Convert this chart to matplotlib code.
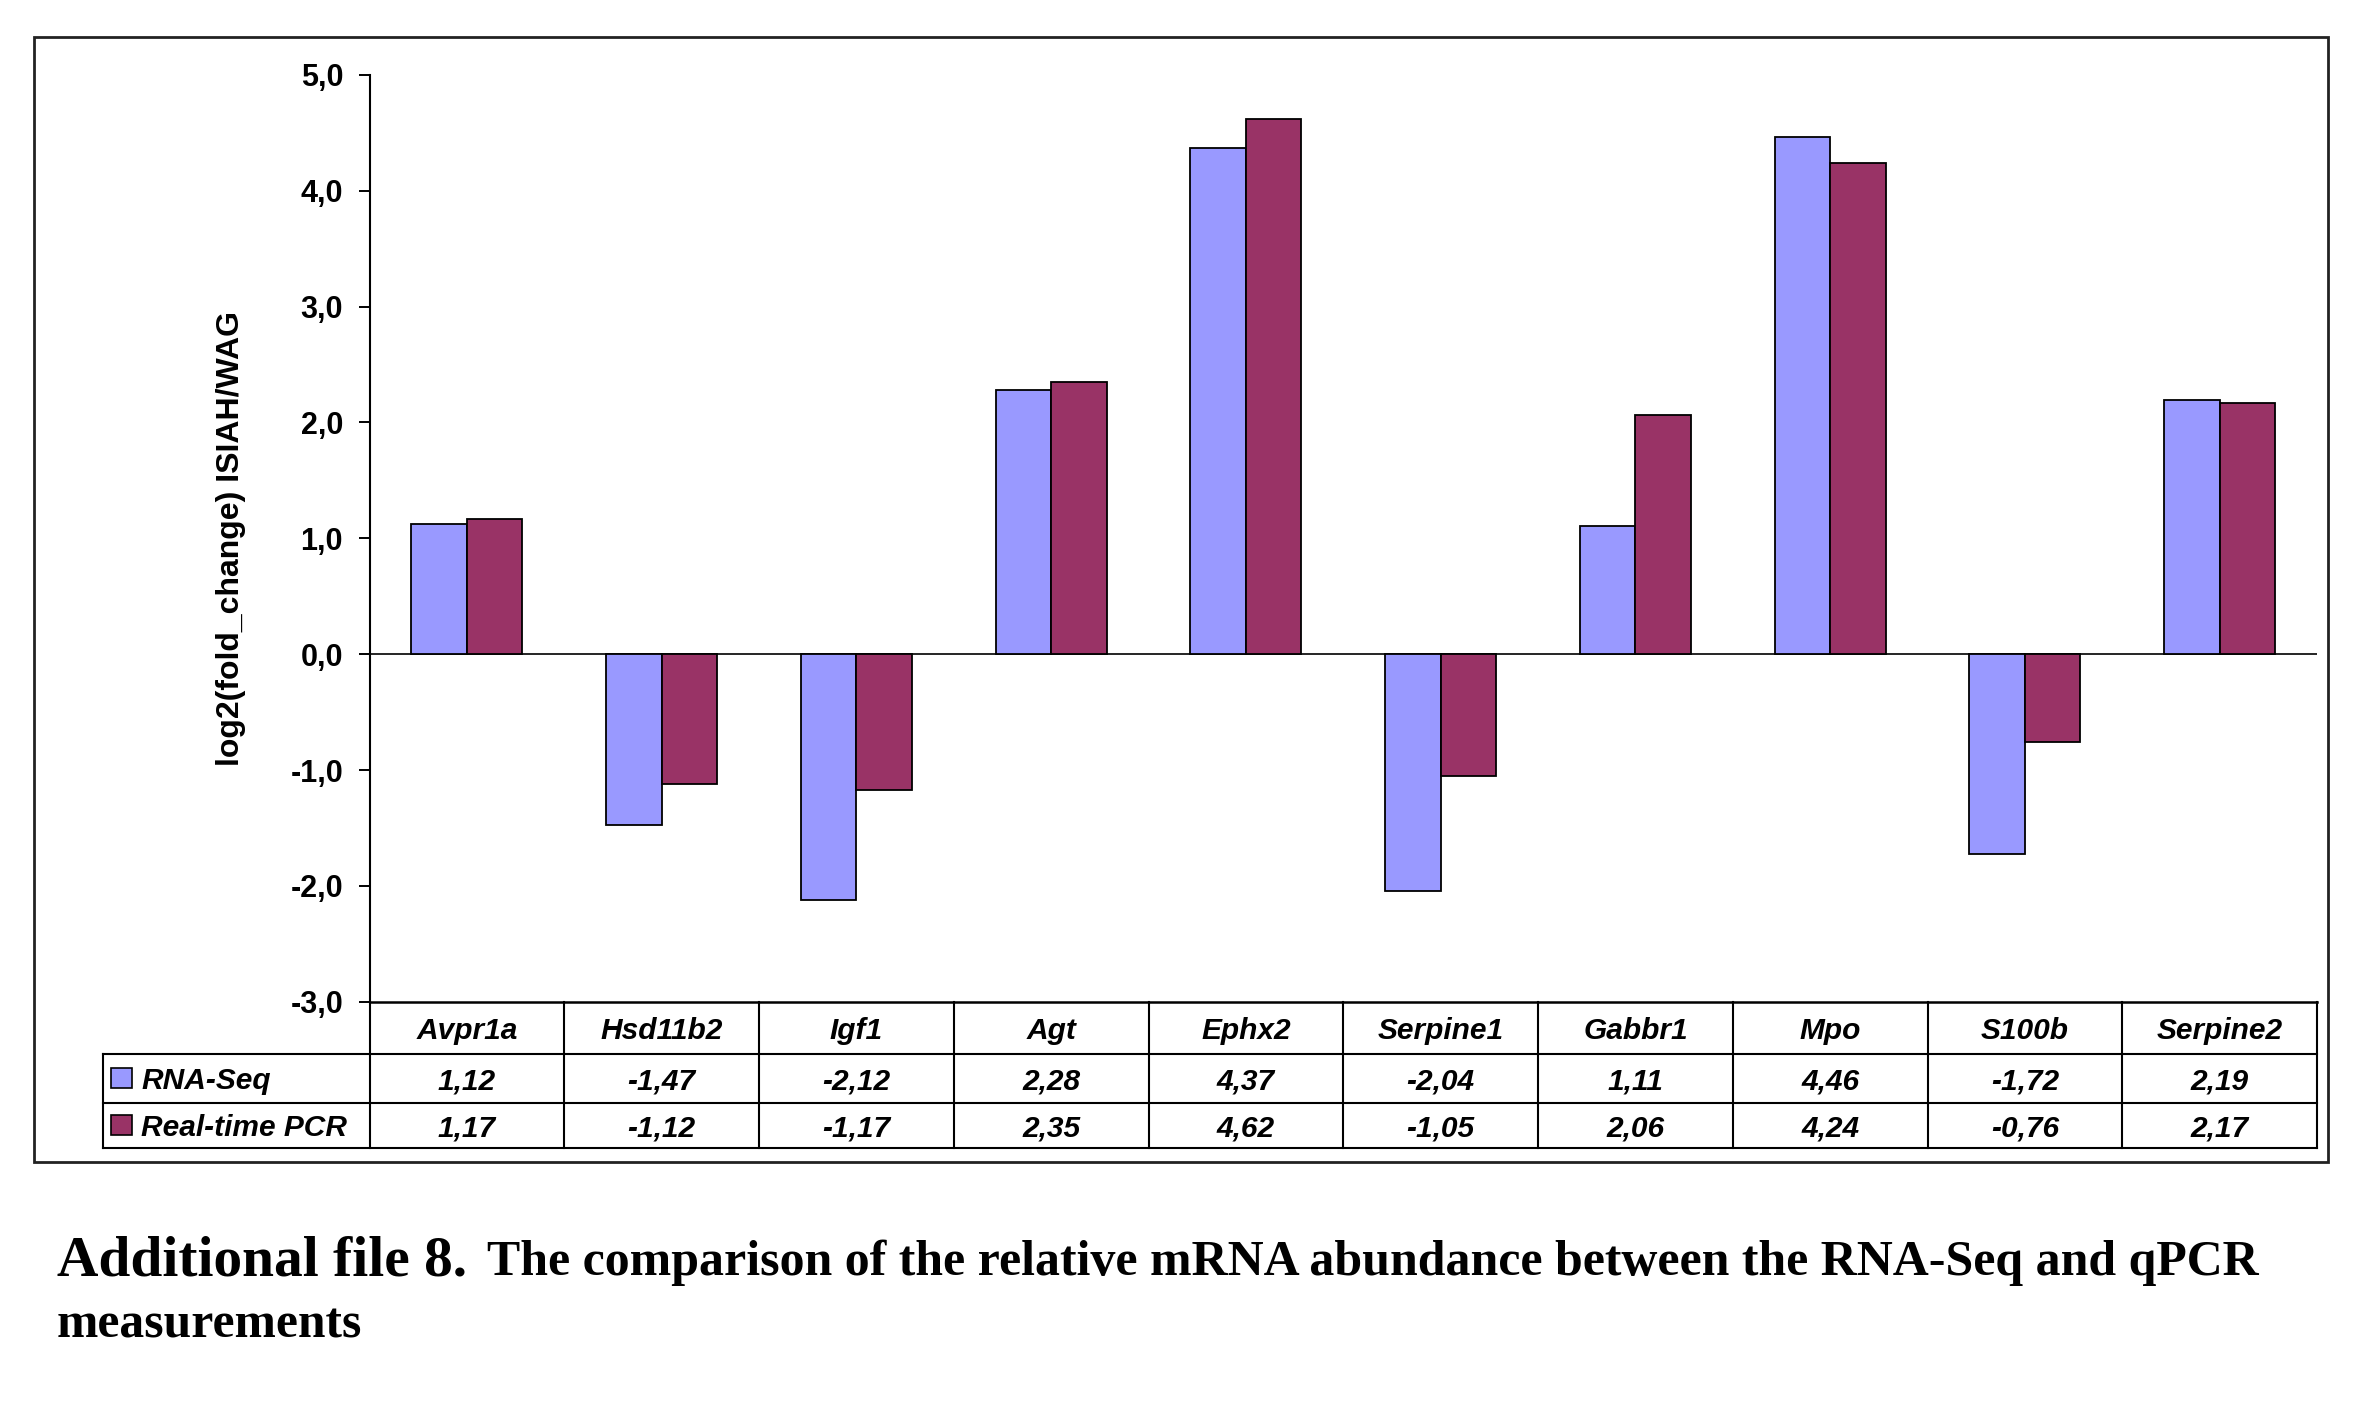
import matplotlib
matplotlib.use("Agg")
import matplotlib.pyplot as plt
from matplotlib.lines import Line2D
from matplotlib.patches import Rectangle
import matplotlib.transforms as mtransforms

# ---------------- data ----------------
genes = ['Avpr1a', 'Hsd11b2', 'Igf1', 'Agt', 'Ephx2', 'Serpine1', 'Gabbr1', 'Mpo', 'S100b', 'Serpine2']
rna_seq = [1.12, -1.47, -2.12, 2.28, 4.37, -2.04, 1.11, 4.46, -1.72, 2.19]
qpcr = [1.17, -1.12, -1.17, 2.35, 4.62, -1.05, 2.06, 4.24, -0.76, 2.17]
series_names = ['RNA-Seq', 'Real-time PCR']
yticks = [-3, -2, -1, 0, 1, 2, 3, 4, 5]
ylabel = 'log2(fold_change) ISIAH/WAG'
caption_bold = 'Additional file 8.'
caption_rest = 'The comparison of the relative mRNA abundance between the RNA-Seq and qPCR'
caption_line2 = 'measurements'

# ---------------- style ----------------
C_BLUE = '#9999FF'
C_MAROON = '#993366'
SANS = ['Liberation Sans', 'DejaVu Sans']
SERIF = ['Liberation Serif', 'DejaVu Serif']
plt.rcParams['font.family'] = SANS

W_PX, H_PX = 2362, 1417
def fx(px):
    return px / W_PX
def fy(py):
    return 1 - py / H_PX

fig = plt.figure(figsize=(W_PX / 100, H_PX / 100), dpi=100)
fig.patch.set_facecolor('white')

ax_left, ax_right, ax_top, ax_bot = 369.5, 2317, 74.7, 1001.9
ax = fig.add_axes([fx(ax_left), fy(ax_bot), fx(ax_right - ax_left), (ax_bot - ax_top) / H_PX])

n = len(genes)
xs = list(range(n))
bw = 0.285
ax.bar([x - bw / 2 for x in xs], rna_seq, width=bw, color=C_BLUE, edgecolor='black', linewidth=1.3, zorder=3)
ax.bar([x + bw / 2 for x in xs], qpcr, width=bw, color=C_MAROON, edgecolor='black', linewidth=1.3, zorder=3)
ax.axhline(0, color='black', linewidth=1.2, zorder=2)

ax.set_xlim(-0.5, n - 0.5)
ax.set_ylim(min(yticks), max(yticks))
ax.set_yticks(yticks)
ax.set_yticklabels([f"{t:.1f}".replace('.', ',') for t in yticks], fontsize=22, fontweight='bold')
ax.set_xticks([])
ax.tick_params(axis='y', direction='out', length=8, width=1.4, pad=11)
for s in ['top', 'right']:
    ax.spines[s].set_visible(False)
ax.spines['left'].set_linewidth(1.5)
ax.spines['bottom'].set_linewidth(1.8)
ax.set_ylabel(ylabel, fontsize=23, fontweight='bold')
ax.yaxis.set_label_coords((246 - ax_left) / (ax_right - ax_left), 0.5)

# ---------------- data table ----------------
blend = mtransforms.blended_transform_factory(ax.transData, fig.transFigure)
row_hdr_top, row1_top, row2_top, tbl_bot = ax_bot, 1053.5, 1102.7, 1148
leg_left = 103
lw_t = 1.5

# horizontal table lines
for yy in [row1_top, row2_top, tbl_bot]:
    fig.add_artist(Line2D([fx(leg_left), fx(ax_right)], [fy(yy), fy(yy)], color='black', lw=lw_t))
# vertical column boundaries
for k in range(n + 1):
    fig.add_artist(Line2D([k - 0.5, k - 0.5], [fy(row_hdr_top), fy(tbl_bot)], color='black', lw=lw_t,
                          transform=blend))
fig.add_artist(Line2D([fx(leg_left), fx(leg_left)], [fy(row1_top), fy(tbl_bot)], color='black', lw=lw_t))

fs_tbl = 21.5
def baseline(top, bot):
    return fy((top + bot) / 2 + 11)

for k, g in enumerate(genes):
    fig.text(k, baseline(row_hdr_top, row1_top), g, transform=blend, ha='center', va='baseline',
             fontsize=fs_tbl, fontweight='bold', fontstyle='italic')
    fig.text(k, baseline(row1_top, row2_top), f"{rna_seq[k]:.2f}".replace('.', ','), transform=blend,
             ha='center', va='baseline', fontsize=fs_tbl, fontweight='bold', fontstyle='italic')
    fig.text(k, baseline(row2_top, tbl_bot), f"{qpcr[k]:.2f}".replace('.', ','), transform=blend,
             ha='center', va='baseline', fontsize=fs_tbl, fontweight='bold', fontstyle='italic')

for (top, bot), name, col in zip([(row1_top, row2_top), (row2_top, tbl_bot)], series_names, [C_BLUE, C_MAROON]):
    cy = (top + bot) / 2
    fig.add_artist(Rectangle((fx(111), fy(cy + 10)), fx(132) - fx(111), (20) / H_PX,
                             facecolor=col, edgecolor='black', lw=1.2, transform=fig.transFigure))
    fig.text(fx(141), baseline(top, bot), name, ha='left', va='baseline', fontsize=fs_tbl,
             fontweight='bold', fontstyle='italic')

# outer frame
fig.add_artist(Rectangle((fx(33.7), fy(1161.7)), fx(2328) - fx(33.7), (1161.7 - 37) / H_PX,
                         fill=False, edgecolor='#222222', lw=2.0, transform=fig.transFigure))

# ---------------- caption ----------------
renderer = fig.canvas.get_renderer()
def fit_text(x_px, y_px, s, fs, target_w):
    t = fig.text(fx(x_px), fy(y_px), s, ha='left', va='baseline', fontsize=fs,
                 fontweight='bold', family=SERIF)
    w = t.get_window_extent(renderer).width
    t.set_fontsize(fs * target_w / w)
    return t

fit_text(57, 1275, caption_bold, 41, 410)
fit_text(487, 1275, caption_rest, 34, 1774)
fit_text(57, 1337, caption_line2, 35, 305)

fig.savefig('out.png', dpi=100, facecolor='white')
